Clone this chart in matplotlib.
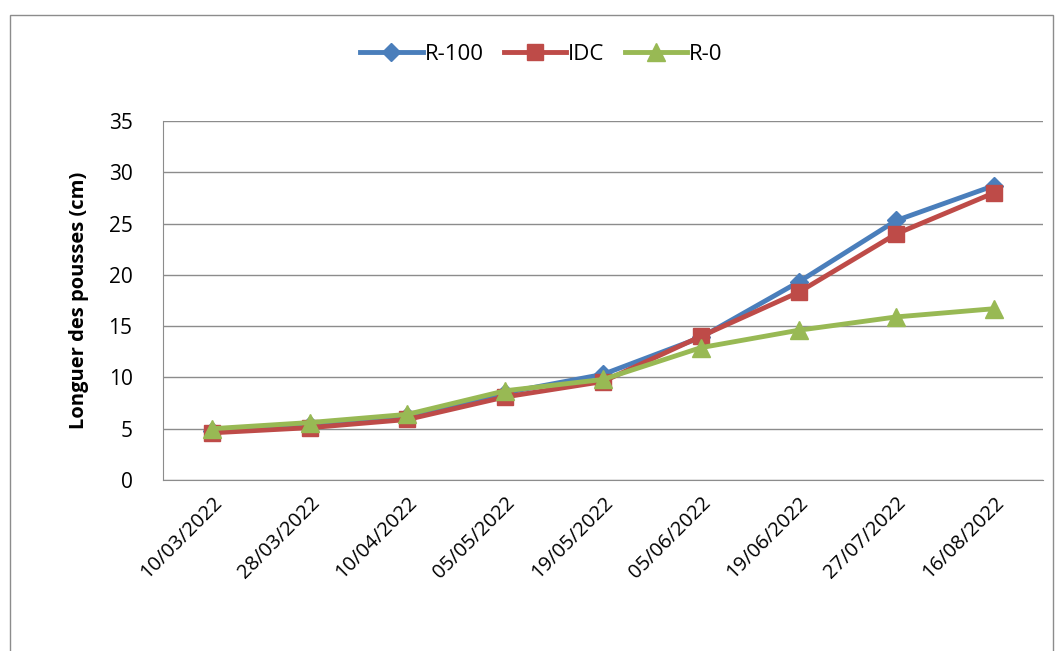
import numpy as np
import matplotlib.pyplot as plt
from matplotlib.patches import Rectangle

dates = ['10/03/2022', '28/03/2022', '10/04/2022', '05/05/2022', '19/05/2022',
         '05/06/2022', '19/06/2022', '27/07/2022', '16/08/2022']
r100 = [4.8, 5.4, 6.2, 8.5, 10.3, 13.9, 19.3, 25.3, 28.7]
idc = [4.6, 5.1, 5.9, 8.1, 9.6, 14.0, 18.3, 24.0, 28.0]
r0 = [5.0, 5.6, 6.4, 8.7, 9.8, 12.9, 14.6, 15.9, 16.7]

plt.rcParams['font.family'] = ['Open Sans', 'DejaVu Sans']

fig = plt.figure(figsize=(10.63, 6.51), dpi=100)
ax = fig.add_axes([163 / 1063, 1 - 480 / 651, (1043 - 163) / 1063, (480 - 121) / 651])

# outer frame like the spreadsheet chart area
fig.patches.append(Rectangle((10 / 1063, -5 / 651), 1043 / 1063, 641 / 651,
                             transform=fig.transFigure, fill=False,
                             edgecolor='#8c8c8c', linewidth=1))

x = np.arange(len(dates))
ax.plot(x, r100, color='#4a7ebb', linewidth=3.5, marker='D', markersize=9, label='R-100')
ax.plot(x, idc, color='#be4b48', linewidth=3.5, marker='s', markersize=12, label='IDC')
ax.plot(x, r0, color='#98b954', linewidth=3.5, marker='^', markersize=13, label='R-0')

ax.set_xlim(-0.5, len(dates) - 0.5)
ax.set_ylim(0, 35)
ax.set_yticks(np.arange(0, 36, 5))
ax.set_xticks(x)
ax.set_xticklabels(dates, rotation=45, ha='right', rotation_mode='anchor', fontsize=14.5)
ax.tick_params(axis='y', labelsize=15, length=0, pad=22)
ax.tick_params(axis='x', length=0, pad=9)
ax.grid(axis='y', color='#8c8c8c', linewidth=1)
ax.set_axisbelow(True)
for s in ['top', 'right']:
    ax.spines[s].set_visible(False)
ax.spines['left'].set_color('#8c8c8c')
ax.spines['bottom'].set_color('#8c8c8c')
ax.set_ylabel('Longuer des pousses (cm)', fontsize=14.5, fontweight='bold', labelpad=14)

ax.legend(loc='upper center', bbox_to_anchor=(0.43, 1.27), ncol=3, frameon=False,
          fontsize=16, handlelength=2.8, columnspacing=0.9, handletextpad=0.1)

fig.savefig('out.png', dpi=100)
